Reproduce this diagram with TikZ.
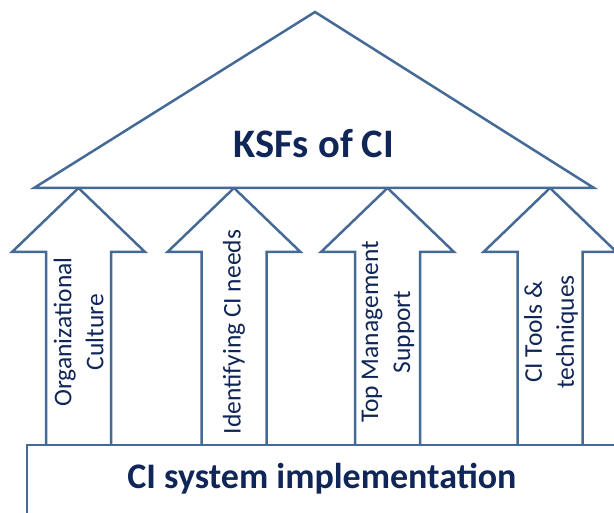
\documentclass[tikz,border=0pt]{standalone}
\usepackage{fontspec}
\setmainfont{Carlito}
\definecolor{edge}{RGB}{70,106,150}
\definecolor{ink}{RGB}{16,38,88}
\begin{document}
\begin{tikzpicture}[x=1pt,y=-1pt,
  shapeline/.style={draw=edge, line width=2.5pt, fill=white, line join=miter},
  lbl/.style={text=ink, font=\fontsize{25.5}{32}\selectfont, align=center, rotate=90, inner sep=0pt},
  title/.style={text=ink, font=\bfseries\fontsize{40.5}{48}\selectfont, inner sep=0pt, anchor=base},
  base/.style={text=ink, font=\bfseries\fontsize{36}{43}\selectfont, inner sep=0pt, anchor=base}]
\useasboundingbox (0,0) rectangle (614,513);
\clip (0,0) rectangle (614,513);
\foreach \c in {78.5, 234, 387.5, 550} {
  \draw[shapeline] (\c-32.5,447) -- (\c-32.5,252) -- (\c-66.5,252) -- (\c,188) -- (\c+66.5,252) -- (\c+32.5,252) -- (\c+32.5,447);
}
\draw[shapeline] (34,188) -- (315,12) -- (594,188) -- cycle;
\draw[shapeline] (27,445) rectangle (640,540);
\node[title] (ksf) at (314,158) {KSFs of CI};
\node[base] (sys) at (322,489) {CI system implementation};
\node[lbl] (l1) at (78.5,332) {Organizational\\Culture};
\node[lbl] (l2) at (234,332) {Identifying CI needs};
\node[lbl] (l3) at (388,332) {Top Management\\Support};
\node[lbl] (l4) at (551,332) {CI Tools \&\\techniques};
\end{tikzpicture}
\end{document}
